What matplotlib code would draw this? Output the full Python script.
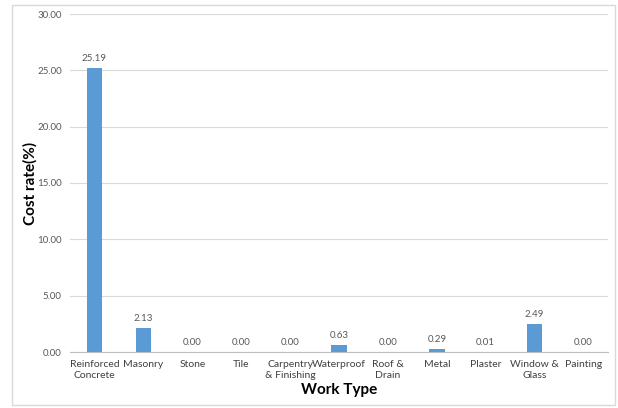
import matplotlib
matplotlib.use("Agg")
import matplotlib.pyplot as plt
from matplotlib.patches import Rectangle

categories = ["Reinforced\nConcrete", "Masonry", "Stone", "Tile", "Carpentry\n& Finishing",
              "Waterproof", "Roof &\nDrain", "Metal", "Plaster", "Window &\nGlass", "Painting"]
values = [25.19, 2.13, 0.00, 0.00, 0.00, 0.63, 0.00, 0.29, 0.01, 2.49, 0.00]
yticks = [0, 5, 10, 15, 20, 25, 30]

plt.rcParams['font.family'] = ['Lato', 'DejaVu Sans']

fig = plt.figure(figsize=(6.18, 4.08), dpi=100)
fig.patches.append(Rectangle((12/618, 3/408), 603/618, 400/408, transform=fig.transFigure,
                             fill=False, edgecolor='#D9D9D9', linewidth=1))
ax = fig.add_axes([70/618, 1-352/408, 538/618, 338/408])

x = list(range(len(categories)))
ax.bar(x, values, width=0.32, color='#5B9BD5', zorder=3)
for xi, v in zip(x, values):
    ax.text(xi, v + 0.45, f"{v:.2f}", ha='center', va='bottom', fontsize=7, color='#595959')

ax.set_xlim(-0.5, len(categories) - 0.5)
ax.set_ylim(0, 30)
ax.set_yticks(yticks)
ax.set_yticklabels([f"{t:.2f}" for t in yticks], fontsize=7, color='#595959')
ax.set_xticks(x)
ax.set_xticklabels(categories, fontsize=7.5, color='#404040')
ax.tick_params(axis='both', length=0, pad=6)
ax.grid(axis='y', color='#D9D9D9', linewidth=0.8, zorder=0)
for s in ['top', 'right', 'left']:
    ax.spines[s].set_visible(False)
ax.spines['bottom'].set_color('#BFBFBF')
ax.set_ylabel("Cost rate(%)", fontsize=11, fontweight='bold', color='black')
ax.yaxis.set_label_coords(-32/538, 0.5)
ax.set_xlabel("Work Type", fontsize=11, fontweight='bold', color='black', labelpad=2)

fig.savefig("out.png", dpi=100)
